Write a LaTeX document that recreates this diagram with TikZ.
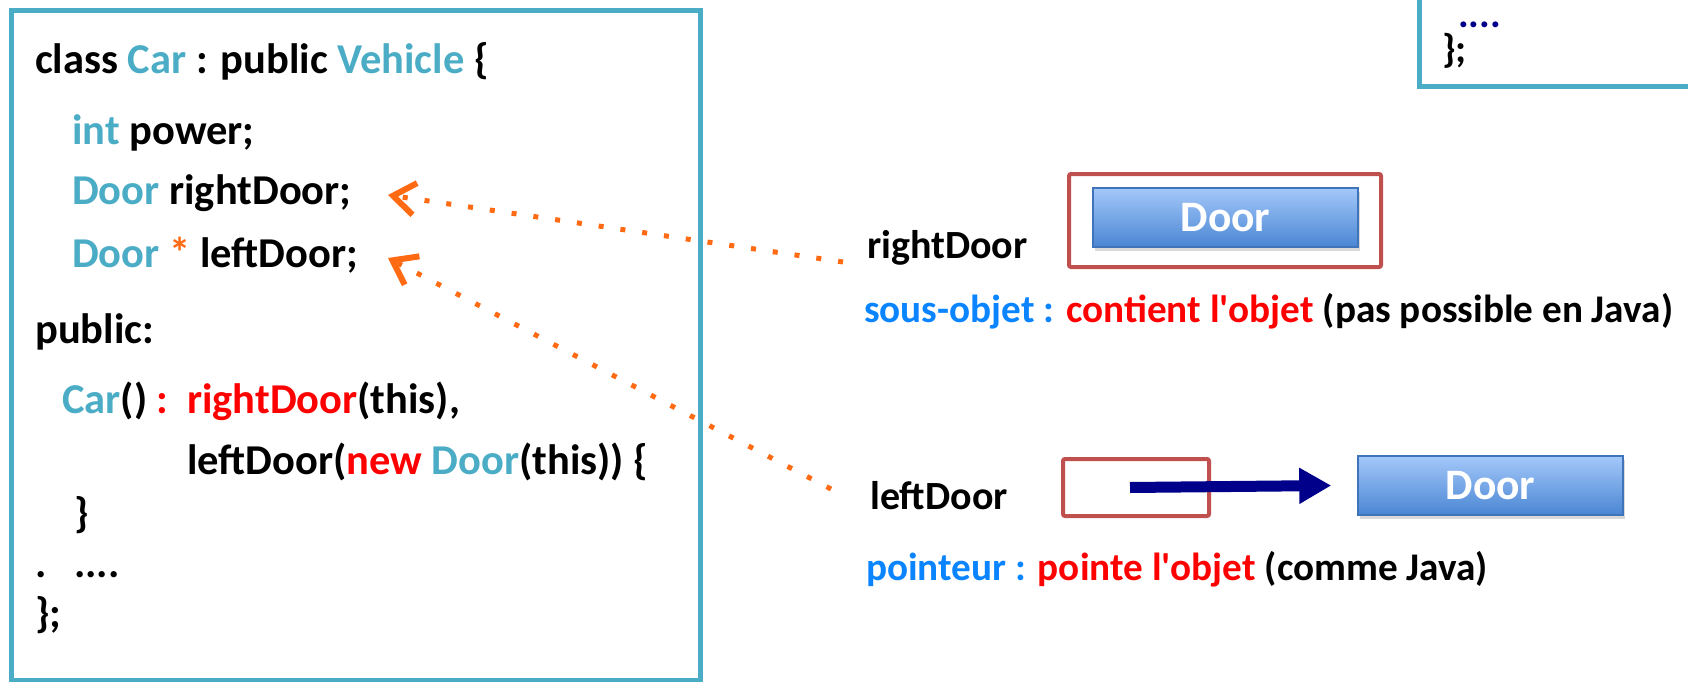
\documentclass[tikz,border=0pt]{standalone}
\usepackage{fontspec}
\setmainfont{Carlito}
\usetikzlibrary{arrows.meta, positioning, shadows}
\definecolor{cppblue}{HTML}{4BACC6}
\definecolor{cppred}{HTML}{FF0000}
\definecolor{refrange}{HTML}{FF6A13}
\definecolor{noteblue}{HTML}{0A84FF}
\definecolor{framered}{HTML}{C0504D}
\definecolor{btntop}{HTML}{A4C8FA}
\definecolor{btnbot}{HTML}{4A86D3}
\definecolor{btnedge}{HTML}{3F73BA}
\definecolor{ptrnavy}{HTML}{00008B}
\newcommand{\cpptype}[1]{\textcolor{cppblue}{#1}}
\newcommand{\cppkey}[1]{\textcolor{cppred}{#1}}
\newcommand{\notekey}[1]{\textcolor{noteblue}{#1}}
\tikzset{
	codeln/.style={anchor=base west, inner sep=0pt, font=\bfseries\fontsize{42.5}{48}\selectfont},
	lblln/.style={codeln, font=\bfseries\fontsize{40}{48}\selectfont},
	noteln/.style={codeln, font=\bfseries\fontsize{39.2}{48}\selectfont},
	codebox/.style={draw=cppblue, line width=5pt},
	memframe/.style={draw=framered, line width=4pt, rounded corners=2pt},
	objbtn/.style={draw=btnedge, line width=1.5pt, top color=btntop, bottom color=btnbot,
		text=white, font=\bfseries\fontsize{43.5}{48}\selectfont,
		minimum width=265pt, minimum height=59pt,
		drop shadow={shadow xshift=2pt, shadow yshift=-4pt, opacity=0.3}},
	refarr/.style={draw=refrange, line width=5pt, dash pattern=on 5pt off 17pt,
		-{Straight Barb[length=22pt, width=32pt, line width=6pt]}},
	ptrarr/.style={draw=ptrnavy, line width=11pt, -{Triangle[length=32pt, width=34pt]}}
}

\begin{document}
\begin{tikzpicture}[x=1pt, y=-1pt]
	\useasboundingbox (0,0) rectangle (1688,682);
	\clip (0,0) rectangle (1688,682);
	% the class
	\draw[codebox] (11,11) rectangle (700,680);
	\node[codeln] (cls) at (35,74) {class \cpptype{Car} : public \cpptype{Vehicle} \{};
	\node[codeln] (pwr) at (72,144) {\cpptype{int} power;};
	\node[codeln] (rdecl) at (72,204) {\cpptype{Door} rightDoor;};
	\node[codeln] (ldecl) at (72,267) {\cpptype{Door} \textcolor{refrange}{*} leftDoor;};
	\node[codeln] (pub) at (35,343) {public:};
	\node[codeln] (ctor) at (62,413) {\makebox[125pt][l]{\cpptype{Car}() \cppkey{:}}\cppkey{rightDoor}(this),};
	\node[codeln] (init) at (187,474) {leftDoor(\cppkey{new} \cpptype{Door}(this)) \{};
	\node[codeln] (cbrace) at (74,527) {\}};
	\node[codeln] (etc) at (35,577) {\makebox[39pt][l]{.}....};
	\node[codeln] (cend) at (35,627) {\};};
	% corner of the other class
	\draw[codebox] (1419,-20) -- (1419,87) -- (1720,87);
	\node[lblln, text=ptrnavy] (tdots) at (1458,28) {....};
	\node[lblln] (tend) at (1442,63) {\};};
	% sub-object
	\node[memframe, minimum width=312pt, minimum height=93pt] (rdframe) at (1225,220.5) {};
	\node[objbtn] (rdobj) at (1225.5,217.5) {Door};
	\node[lblln] (rdlabel) at (867,258) {rightDoor};
	\node[noteln] (rdnote) at (864,322) {\notekey{sous-objet :} \cppkey{contient l\textquotesingle objet} (pas possible en Java)};
	% pointer
	\node[memframe, minimum width=146pt, minimum height=57pt] (ldframe) at (1136,487.5) {};
	\node[objbtn] (ldobj) at (1490.5,485.5) {Door};
	\node[lblln] (ldlabel) at (870,509) {leftDoor};
	\node[noteln] (ldnote) at (866,580) {\notekey{pointeur :} \cppkey{pointe l\textquotesingle objet} (comme Java)};
	\draw[ptrarr] ([xshift=-6pt]ldframe.center) -- ([xshift=-26pt]ldobj.west);
	% links back to the members
	\coordinate (rdfrom) at (843,262);
	\coordinate (rdto) at (388,195);
	\coordinate (ldfrom) at (831,489);
	\coordinate (ldto) at (388,258);
	\draw[refarr] (rdfrom) -- (rdto);
	\draw[refarr] (ldfrom) -- (ldto);
\end{tikzpicture}
\end{document}
